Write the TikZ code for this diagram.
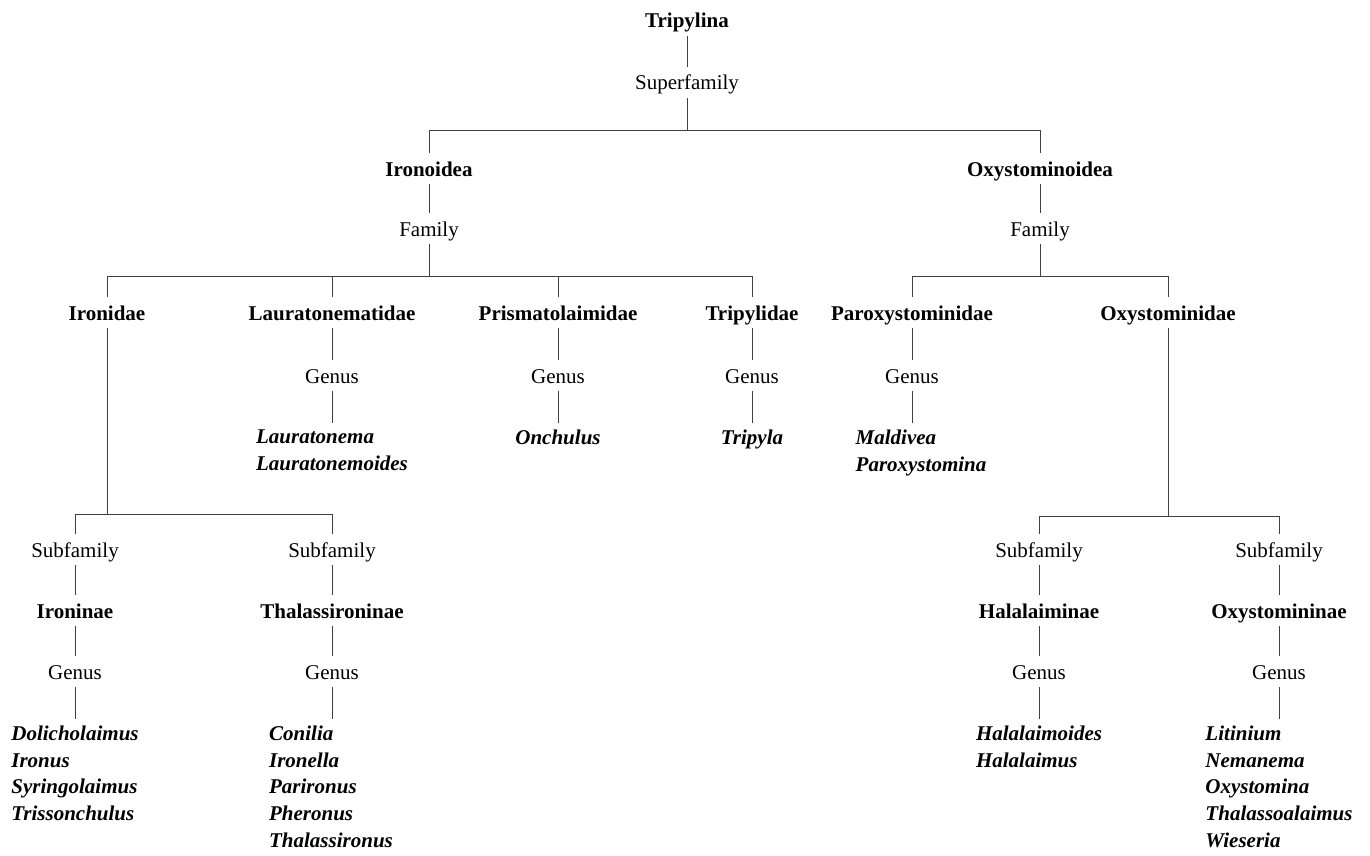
\documentclass[tikz,border=0pt]{standalone}
\usepackage{fontspec}
\setmainfont{Liberation Serif}
\begin{document}
\begin{tikzpicture}[x=1pt,y=-1pt,
  every node/.style={font=\fontsize{21pt}{26.8pt}\selectfont, inner xsep=0pt},
  lbl/.style={text height=19pt, text depth=4pt, inner ysep=4pt, anchor=base},
  taxon/.style={lbl, font=\fontsize{21pt}{26.8pt}\selectfont\bfseries},
  rank/.style={lbl},
  glist/.style={anchor=north, align=left, inner ysep=6.5pt, font=\fontsize{21pt}{26.8pt}\selectfont\bfseries\itshape},
  conn/.style={draw=black!75, line width=0.9pt}]
\useasboundingbox (0,0) rectangle (1370,856);

% top
\node[taxon] (tripylina) at (687,28) {Tripylina};
\node[rank] (sfam) at (687,90) {Superfamily};
\node[taxon] (ironoidea) at (429,176) {Ironoidea};
\node[taxon] (oxyoidea) at (1040,176) {Oxystominoidea};
\node[rank] (famL) at (429,236) {Family};
\node[rank] (famR) at (1040,236) {Family};

% families
\node[taxon] (ironidae) at (107,320) {Ironidae};
\node[taxon] (laura) at (332,320) {Lauratonematidae};
\node[taxon] (prisma) at (558,320) {Prismatolaimidae};
\node[taxon] (tripylidae) at (752,320) {Tripylidae};
\node[taxon] (paroxy) at (912,320) {Paroxystominidae};
\node[taxon] (oxyidae) at (1168,320) {Oxystominidae};

% genus ranks for families
\node[rank] (gLaura) at (332,383) {Genus};
\node[rank] (gPrisma) at (558,383) {Genus};
\node[rank] (gTrip) at (752,383) {Genus};
\node[rank] (gParoxy) at (912,383) {Genus};

\node[glist] (lLaura) at (332,423) {Lauratonema\\Lauratonemoides};
\node[glist] (lPrisma) at (558,423) {Onchulus};
\node[glist] (lTrip) at (752,423) {Tripyla};
\node[glist] (lParoxy) at (921,423) {Maldivea\\Paroxystomina};

% subfamilies
\node[rank] (sfIron) at (75,557) {Subfamily};
\node[rank] (sfThal) at (332,557) {Subfamily};
\node[rank] (sfHala) at (1039,557) {Subfamily};
\node[rank] (sfOxy) at (1279,557) {Subfamily};

\node[taxon] (ironinae) at (75,618) {Ironinae};
\node[taxon] (thalinae) at (332,618) {Thalassironinae};
\node[taxon] (halinae) at (1039,618) {Halalaiminae};
\node[taxon] (oxyinae) at (1279,618) {Oxystomininae};

\node[rank] (gIron) at (75,679) {Genus};
\node[rank] (gThal) at (332,679) {Genus};
\node[rank] (gHala) at (1039,679) {Genus};
\node[rank] (gOxy) at (1279,679) {Genus};

\node[glist] (lIron) at (75,719) {Dolicholaimus\\Ironus\\Syringolaimus\\Trissonchulus};
\node[glist] (lThal) at (331,719) {Conilia\\Ironella\\Parironus\\Pheronus\\Thalassironus};
\node[glist] (lHala) at (1039,719) {Halalaimoides\\Halalaimus};
\node[glist] (lOxy) at (1279,719) {Litinium\\Nemanema\\Oxystomina\\Thalassoalaimus\\Wieseria};

% bar coordinates
\coordinate (b1) at (687,130);
\coordinate (b2L) at (429,276);
\coordinate (b2R) at (1040,276);
\coordinate (b3L) at (107,514);
\coordinate (b3R) at (1168,516);

% connectors
\draw[conn] (tripylina) -- (sfam);
\draw[conn] (sfam) -- (b1);
\draw[conn] (b1) -| (ironoidea.north);
\draw[conn] (b1) -| (oxyoidea.north);
\draw[conn] (ironoidea) -- (famL);
\draw[conn] (oxyoidea) -- (famR);

\draw[conn] (famL) -- (b2L);
\draw[conn] (b2L) -| (ironidae.north);
\draw[conn] (b2L) -| (laura.north);
\draw[conn] (b2L) -| (prisma.north);
\draw[conn] (b2L) -| (tripylidae.north);
\draw[conn] (famR) -- (b2R);
\draw[conn] (b2R) -| (paroxy.north);
\draw[conn] (b2R) -| (oxyidae.north);

\draw[conn] (laura) -- (gLaura);
\draw[conn] (prisma) -- (gPrisma);
\draw[conn] (tripylidae) -- (gTrip);
\draw[conn] (paroxy) -- (gParoxy);
\draw[conn] (gLaura.south) -- (gLaura.south |- lLaura.north);
\draw[conn] (gPrisma.south) -- (gPrisma.south |- lPrisma.north);
\draw[conn] (gTrip.south) -- (gTrip.south |- lTrip.north);
\draw[conn] (gParoxy.south) -- (gParoxy.south |- lParoxy.north);

\draw[conn] (ironidae) -- (b3L);
\draw[conn] (b3L) -| (sfIron.north);
\draw[conn] (b3L) -| (sfThal.north);
\draw[conn] (oxyidae) -- (b3R);
\draw[conn] (b3R) -| (sfHala.north);
\draw[conn] (b3R) -| (sfOxy.north);

\draw[conn] (sfIron) -- (ironinae);
\draw[conn] (sfThal) -- (thalinae);
\draw[conn] (sfHala) -- (halinae);
\draw[conn] (sfOxy) -- (oxyinae);
\draw[conn] (ironinae) -- (gIron);
\draw[conn] (thalinae) -- (gThal);
\draw[conn] (halinae) -- (gHala);
\draw[conn] (oxyinae) -- (gOxy);
\draw[conn] (gIron.south) -- (gIron.south |- lIron.north);
\draw[conn] (gThal.south) -- (gThal.south |- lThal.north);
\draw[conn] (gHala.south) -- (gHala.south |- lHala.north);
\draw[conn] (gOxy.south) -- (gOxy.south |- lOxy.north);
\end{tikzpicture}
\end{document}
